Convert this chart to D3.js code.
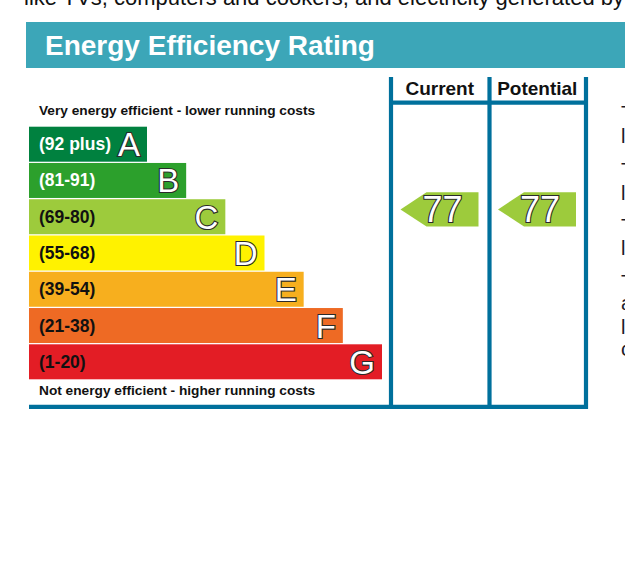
<!DOCTYPE html>
<html>
<head>
<meta charset="utf-8">
<script src="https://cdn.jsdelivr.net/npm/d3@7"></script>
<style>
  html, body { margin: 0; padding: 0; background: #fff; overflow: hidden; }
  svg { display: block; font-family: "Liberation Sans", Arial, sans-serif; }
</style>
</head>
<body>
<svg id="chart" width="625" height="569"></svg>
<script>
// rating bands, top (best) to bottom (worst)
var bands = ["A", "B", "C", "D", "E", "F", "G"];
var bandRanges = ["(92 plus)", "(81-91)", "(69-80)", "(55-68)", "(39-54)", "(21-38)", "(1-20)"];
var bandMin = [92, 81, 69, 55, 39, 21, 1];
var bandColors = ["#00813f", "#2ca02c", "#9dcb3c", "#fff200", "#f7af1e", "#ee6a24", "#e31d25"];
var bandTextColors = ["#fff", "#fff", "#111", "#111", "#111", "#111", "#111"];

// the two rating columns
var columns = ["Current", "Potential"];
var scores = [77, 77];

// surrounding page text (cut off by the page edge)
var topLine = "like TVs, computers and cookers, and electricity generated by";
var sideLines = ["The graph shows the", "level of efficiency", "The higher the rating", "lower your fuel bills",
  "The potential rating", "likely after works", "The average rating for", "a dwelling in England",
  "low carbon homes", "compare well"];
var sideBaselines = [120, 143, 177, 200, 233, 255, 289, 310, 334, 356];

var svg = d3.select("#chart");
var frameColor = "#00709c";

// scales
var y = d3.scaleBand().domain(bands).range([126.7, 379.3]).paddingInner(0.035);
var barRight = d3.scaleLinear().domain([0, bands.length - 1]).range([147, 382]);
var col = d3.scaleBand().domain(columns).range([391, 586]);
var barLeft = 29;

function scoreY(s) {
  var i = bandMin.findIndex(function (m) { return s >= m; });
  var upper = i === 0 ? 100 : bandMin[i - 1];
  var t = (upper - 0.5 - s) / (upper - bandMin[i]);
  return y(bands[i]) + t * y.bandwidth();
}

// page text above
svg.append("text")
  .attr("x", 24).attr("y", 5)
  .attr("font-size", 22)
  .attr("fill", "#111")
  .text(topLine);

// side text (mostly off-screen)
svg.append("g").selectAll("text")
  .data(sideLines)
  .enter().append("text")
  .attr("x", 621)
  .attr("y", function (d, i) { return sideBaselines[i]; })
  .attr("font-size", 20)
  .attr("fill", "#1a1a2a")
  .text(function (d) { return d; });

// title band
svg.append("rect")
  .attr("x", 26).attr("y", 22)
  .attr("width", 625 - 26).attr("height", 46)
  .attr("fill", "#3ca6b8");

svg.append("text")
  .attr("x", 45).attr("y", 55)
  .attr("font-size", 28)
  .attr("font-weight", "bold")
  .attr("fill", "#fff")
  .text("Energy Efficiency Rating");

// captions
svg.append("text")
  .attr("x", 39).attr("y", 115)
  .attr("font-size", 13.7)
  .attr("font-weight", "bold")
  .attr("fill", "#111")
  .text("Very energy efficient - lower running costs");

svg.append("text")
  .attr("x", 39).attr("y", 395)
  .attr("font-size", 13.7)
  .attr("font-weight", "bold")
  .attr("fill", "#111")
  .text("Not energy efficient - higher running costs");

// bars
var bar = svg.append("g").selectAll("g")
  .data(bands)
  .enter().append("g");

bar.append("rect")
  .attr("x", barLeft)
  .attr("y", function (d) { return y(d); })
  .attr("width", function (d, i) { return barRight(i) - barLeft; })
  .attr("height", y.bandwidth())
  .attr("fill", function (d, i) { return bandColors[i]; });

bar.append("text")
  .attr("x", 39)
  .attr("y", function (d) { return y(d) + y.bandwidth() / 2 + 6; })
  .attr("font-size", 17.5)
  .attr("font-weight", "bold")
  .attr("fill", function (d, i) { return bandTextColors[i]; })
  .text(function (d, i) { return bandRanges[i]; });

bar.append("text")
  .attr("x", function (d, i) { return barRight(i) - 7; })
  .attr("y", function (d) { return y(d) + y.bandwidth() - 5.5; })
  .attr("text-anchor", "end")
  .attr("font-size", 33)
  .attr("fill", "#fff")
  .attr("stroke", "#2a2a2a")
  .attr("stroke-width", 2.2)
  .attr("paint-order", "stroke")
  .text(function (d) { return d; });

// column frame
var frame = svg.append("g")
  .attr("stroke", frameColor)
  .attr("stroke-width", 4.2)
  .attr("fill", "none");

frame.selectAll("line.v")
  .data([391, 489.5, 586])
  .enter().append("line")
  .attr("class", "v")
  .attr("x1", function (d) { return d; }).attr("x2", function (d) { return d; })
  .attr("y1", 77).attr("y2", 408.7);

frame.append("line")
  .attr("x1", 391).attr("x2", 588)
  .attr("y1", 102.7).attr("y2", 102.7);

frame.append("line")
  .attr("x1", barLeft).attr("x2", 588)
  .attr("y1", 406.8).attr("y2", 406.8);

// column headers
svg.append("g").selectAll("text")
  .data(columns)
  .enter().append("text")
  .attr("x", function (d) { return col(d) + col.bandwidth() / 2; })
  .attr("y", 95)
  .attr("text-anchor", "middle")
  .attr("font-size", 19)
  .attr("font-weight", "bold")
  .attr("fill", "#111")
  .text(function (d) { return d; });

// rating arrows
var arrowW = 78, arrowH = 34.3, tip = 26;
var arrow = svg.append("g").selectAll("g")
  .data(columns)
  .enter().append("g")
  .attr("transform", function (d, i) {
    var right = col(d) + col.bandwidth() - 10;
    return "translate(" + right + "," + scoreY(scores[i]) + ")";
  });

arrow.append("path")
  .attr("d", "M0," + (-arrowH / 2) + "L0," + (arrowH / 2) + "L" + (tip - arrowW) + "," + (arrowH / 2) +
    "L" + (-arrowW) + ",0L" + (tip - arrowW) + "," + (-arrowH / 2) + "Z")
  .attr("fill", function (d, i) {
    var bi = bandMin.findIndex(function (m) { return scores[i] >= m; });
    return bandColors[bi];
  });

arrow.append("text")
  .attr("x", -16)
  .attr("y", 12.5)
  .attr("text-anchor", "end")
  .attr("font-size", 36)
  .attr("fill", "#fff")
  .attr("stroke", "#2a2a2a")
  .attr("stroke-width", 2.2)
  .attr("paint-order", "stroke")
  .text(function (d, i) { return scores[i]; });
</script>
</body>
</html>
